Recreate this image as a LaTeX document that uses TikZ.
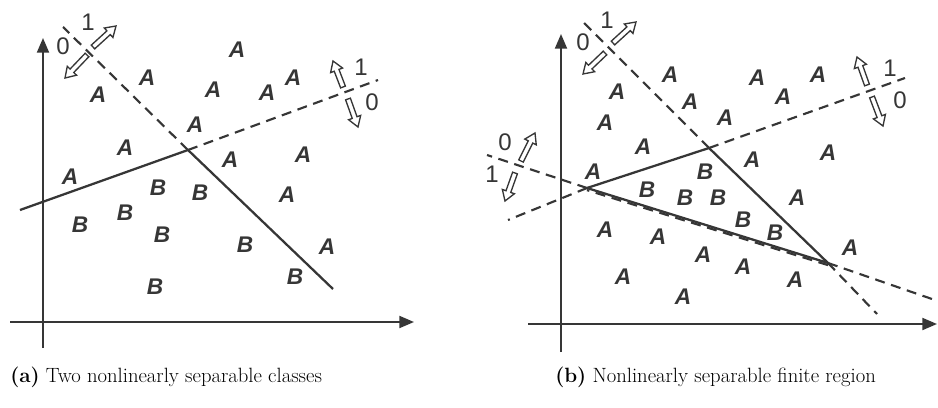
\documentclass[tikz,border=0pt]{standalone}
\usepackage{fontspec}
\newfontfamily\labfont{Liberation Sans}
\usetikzlibrary{calc,arrows.meta}
\definecolor{ink}{HTML}{363636}
\tikzset{
 pt/.style={font=\labfont\bfseries\itshape\fontsize{17}{17}\selectfont, text=ink, inner sep=0pt},
 digit/.style={font=\labfont\fontsize{18}{18}\selectfont, text=ink, inner sep=0pt},
 axis/.style={draw=ink, line width=1.5pt, -{Triangle[length=11pt,width=9pt]}},
 bound/.style={draw=ink, line width=1.7pt, line join=round},
 ext/.style={draw=ink, line width=1.6pt, dash pattern=on 7.5pt off 5pt},
 harrow/.style={draw=ink, line width=1pt, fill=white, line join=miter},
 capt/.style={font=\fontsize{15.5}{18}\selectfont, anchor=west, inner sep=0pt}
}
\newcommand\hollowarrow[2]{%
 \coordinate (hbase) at ($(#2)!7.5pt!(#1)$);
 \draw[harrow] ($(#1)!1.9pt!90:(#2)$) -- ($(hbase)!1.9pt!90:(#2)$) -- ($(hbase)!4.8pt!90:(#2)$) -- (#2)
   -- ($(hbase)!4.8pt!-90:(#2)$) -- ($(hbase)!1.9pt!-90:(#2)$) -- ($(#1)!1.9pt!-90:(#2)$) -- cycle;
}
\begin{document}
\begin{tikzpicture}[x=0.75pt,y=-0.75pt]
\useasboundingbox (0,0) rectangle (938,407);
% ---------- panel (a) ----------
\coordinate (aO1) at (43,348);  \coordinate (aY) at (43,38);
\coordinate (aO2) at (10,322);  \coordinate (aX) at (414,322);
\draw[axis] (aO1) -- (aY);
\draw[axis] (aO2) -- (aX);
\coordinate (aL) at (20,210); \coordinate (aV) at (188,150); \coordinate (aR) at (333,289);
\draw[bound] (aL) -- (aV) -- (aR);
\coordinate (aD1) at (63,27); \coordinate (aD2) at (378,80);
\draw[ext] (aV) -- (aD1);
\draw[ext] (aV) -- (aD2);
\coordinate (aha1) at (93,47); \coordinate (ahb1) at (116,26);
\coordinate (aha2) at (87,55); \coordinate (ahb2) at (65,78);
\coordinate (aha3) at (343,87); \coordinate (ahb3) at (333,61);
\coordinate (aha4) at (348,99); \coordinate (ahb4) at (358,127);
\hollowarrow{aha1}{ahb1}
\hollowarrow{aha2}{ahb2}
\hollowarrow{aha3}{ahb3}
\hollowarrow{aha4}{ahb4}
\node[digit] (ad1) at (88,22) {1};
\node[digit] (ad0) at (63,46) {0};
\node[digit] (ad1b) at (361,67) {1};
\node[digit] (ad0b) at (372,102) {0};
\foreach \n/\x/\y in {1/237/50,2/147/78,3/98/95,4/213/90,5/267/93,6/293/78,7/195/125,
  8/125/148,9/230/160,10/303/155,11/70/177,12/287/195,13/327/247}
  \node[pt] (aA\n) at (\x,\y) {A};
\foreach \n/\x/\y in {1/158/188,2/200/193,3/125/213,4/80/225,5/162/235,6/245/245,7/295/277,8/155/287}
  \node[pt] (aB\n) at (\x,\y) {B};
% ---------- panel (b) ----------
\coordinate (bO1) at (561,352);  \coordinate (bY) at (561,34);
\coordinate (bO2) at (528,324);  \coordinate (bX) at (937,324);
\draw[axis] (bO1) -- (bY);
\draw[axis] (bO2) -- (bX);
\coordinate (P1) at (587,188); \coordinate (P2) at (709,148); \coordinate (P3) at (828,263);
\draw[bound] (P1) -- (P2) -- (P3) -- cycle;
\draw[ext] ([yshift=-1.6]P3) -- ([yshift=-1.6]P1);
\coordinate (bE1) at (583,22); \coordinate (bE2) at (905,78);
\coordinate (bE3) at (508,220); \coordinate (bE4) at (487,155);
\coordinate (bE5) at (932,299); \coordinate (bE6) at (877,314);
\draw[ext] (P2) -- (bE1);
\draw[ext] (P2) -- (bE2);
\draw[ext] (P1) -- (bE3);
\draw[ext] (P1) -- (bE4);
\draw[ext] (P3) -- (bE5);
\draw[ext] (P3) -- (bE6);
\coordinate (bha1) at (613,43); \coordinate (bhb1) at (636,22);
\coordinate (bha2) at (605,53); \coordinate (bhb2) at (583,74);
\coordinate (bha3) at (867,85); \coordinate (bhb3) at (857,57);
\coordinate (bha4) at (872,97); \coordinate (bhb4) at (883,126);
\coordinate (bha5) at (521,161); \coordinate (bhb5) at (535,133);
\coordinate (bha6) at (515,173); \coordinate (bhb6) at (505,201);
\hollowarrow{bha1}{bhb1}
\hollowarrow{bha2}{bhb2}
\hollowarrow{bha3}{bhb3}
\hollowarrow{bha4}{bhb4}
\hollowarrow{bha5}{bhb5}
\hollowarrow{bha6}{bhb6}
\node[digit] (bd1) at (607,20) {1};
\node[digit] (bd0) at (583,42) {0};
\node[digit] (bd1b) at (890,68) {1};
\node[digit] (bd0b) at (900,100) {0};
\node[digit] (bd0c) at (505,142) {0};
\node[digit] (bd1c) at (492,174) {1};
\foreach \n/\x/\y in {1/670/75,2/617/92,3/690/102,4/605/123,5/725/118,6/757/78,7/783/97,
  8/818/75,9/643/147,10/593/172,11/752/160,12/828/153,13/797/198,14/605/230,15/658/237,
  16/703/255,17/743/267,18/795/280,19/623/277,20/683/297,21/850/248}
  \node[pt] (bA\n) at (\x,\y) {A};
\foreach \n/\x/\y in {1/705/172,2/647/190,3/685/198,4/718/198,5/743/220,6/775/233}
  \node[pt] (bB\n) at (\x,\y) {B};
% ---------- captions ----------
\node[capt] (capa) at (10,377) {\textbf{(a)} Two nonlinearly separable classes};
\node[capt] (capb) at (555,377) {\textbf{(b)} Nonlinearly separable finite region};
\end{tikzpicture}
\end{document}
